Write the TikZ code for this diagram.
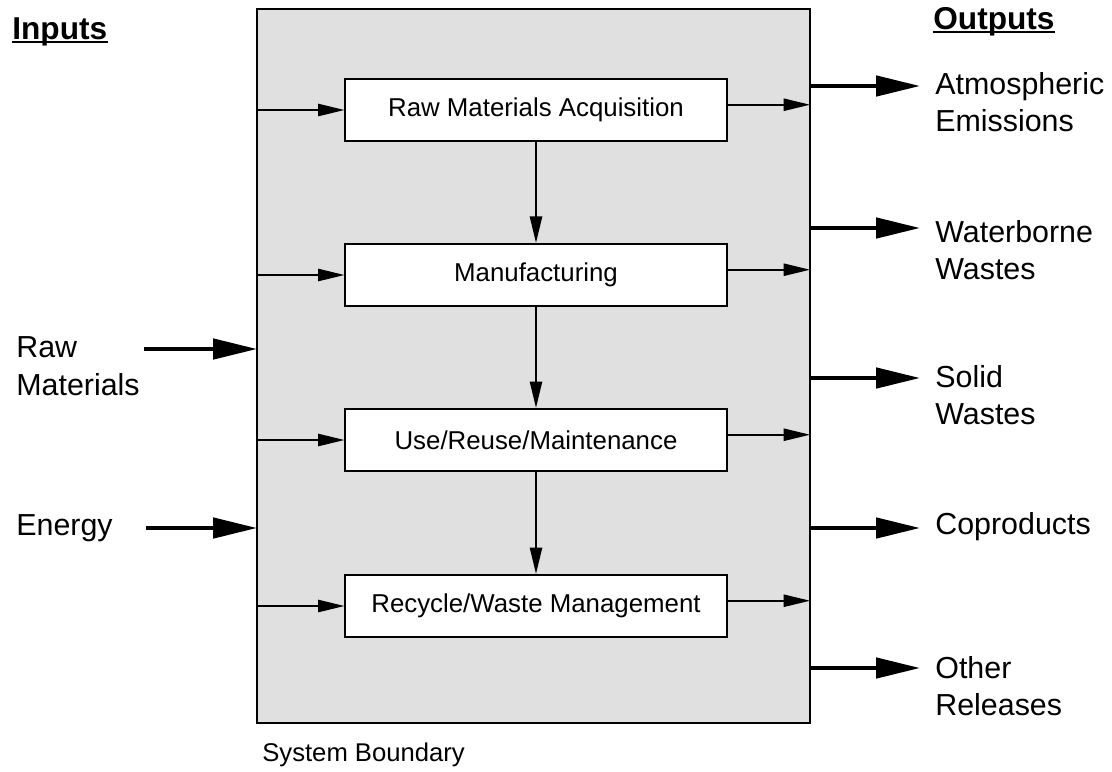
\documentclass[tikz,border=0pt]{standalone}
\usepackage{fontspec}
\setmainfont{Liberation Sans}
\usetikzlibrary{arrows.meta}

\tikzset{
  stage/.style={draw, line width=1.1pt, fill=white, minimum width=217pt,
    minimum height=35.5pt, font=\fontsize{14.7}{17}\selectfont},
  flowarrow/.style={line width=0.9pt, -{Triangle[length=15pt,width=7pt]}},
  bigflowarrow/.style={line width=2.3pt, -{Triangle[length=25pt,width=11.5pt]}},
  sidetext/.style={anchor=west, inner sep=0pt, align=left,
    font=\fontsize{17.3}{21.3}\selectfont},
  headtext/.style={anchor=base west, inner sep=0pt,
    font=\fontsize{18}{22}\selectfont\bfseries},
}

\begin{document}
\begin{tikzpicture}[x=0.02cm,y=-0.02cm]
  \useasboundingbox (0,0) rectangle (1112,771);
  % system boundary
  \draw[line width=1.2pt, fill=black!12] (257,9) rectangle (810,723);
  \coordinate (sbw) at (257,0);
  \coordinate (sbe) at (810,0);
  \coordinate (outtip) at (920,0);
  \node[anchor=west, inner sep=0pt, font=\fontsize{14.6}{17}\selectfont] (sblabel) at (262,755) {System Boundary};

  % life-cycle stages
  \node[stage] (acq) at (536,110) {Raw Materials Acquisition};
  \node[stage] (mfg) at (536,275) {Manufacturing};
  \node[stage] (use) at (536,440) {Use/Reuse/Maintenance};
  \node[stage] (rec) at (536,606) {Recycle/Waste Management};
  \draw[flowarrow] (acq) -- (mfg);
  \draw[flowarrow] (mfg) -- (use);
  \draw[flowarrow] (use) -- (rec);

  % inside the boundary
  \draw[flowarrow] (sbw |- acq.west) -- (acq.west);
  \draw[flowarrow] (sbw |- mfg.west) -- (mfg.west);
  \draw[flowarrow] (sbw |- use.west) -- (use.west);
  \draw[flowarrow] (sbw |- rec.west) -- (rec.west);
  \draw[flowarrow] ([yshift=3pt]acq.east) -- ([yshift=3pt]acq.east -| sbe);
  \draw[flowarrow] ([yshift=3pt]mfg.east) -- ([yshift=3pt]mfg.east -| sbe);
  \draw[flowarrow] ([yshift=3pt]use.east) -- ([yshift=3pt]use.east -| sbe);
  \draw[flowarrow] ([yshift=3pt]rec.east) -- ([yshift=3pt]rec.east -| sbe);

  % inputs
  \node[headtext] (inhead) at (12,39) {Inputs};
  \draw[line width=1.3pt] ([yshift=-1.8pt]inhead.base west) -- ([yshift=-1.8pt]inhead.base east);
  \node[sidetext] (raw) at (16,366) {Raw\\Materials};
  \node[sidetext] (nrg) at (16,528) {Energy};
  \coordinate (rawtail) at (144,349);
  \coordinate (nrgtail) at (146,528);
  \draw[bigflowarrow] (rawtail) -- (rawtail -| sbw);
  \draw[bigflowarrow] (nrgtail) -- (nrgtail -| sbw);

  % outputs
  \node[headtext] (outhead) at (933,29) {Outputs};
  \draw[line width=1.3pt] ([yshift=-1.8pt]outhead.base west) -- ([yshift=-1.8pt]outhead.base east);
  \node[sidetext] (atm) at (935,102) {Atmospheric\\Emissions};
  \node[sidetext] (wat) at (935,250) {Waterborne\\Wastes};
  \node[sidetext] (sol) at (935,395) {Solid\\Wastes};
  \node[sidetext] (cop) at (935,527) {Coproducts};
  \node[sidetext] (oth) at (935,686) {Other\\Releases};
  \coordinate (atmtail) at (810,86);
  \coordinate (wattail) at (810,228);
  \coordinate (soltail) at (810,378);
  \coordinate (coptail) at (810,528);
  \coordinate (othtail) at (810,668);
  \draw[bigflowarrow] (atmtail) -- (atmtail -| outtip);
  \draw[bigflowarrow] (wattail) -- (wattail -| outtip);
  \draw[bigflowarrow] (soltail) -- (soltail -| outtip);
  \draw[bigflowarrow] (coptail) -- (coptail -| outtip);
  \draw[bigflowarrow] (othtail) -- (othtail -| outtip);
\end{tikzpicture}
\end{document}
